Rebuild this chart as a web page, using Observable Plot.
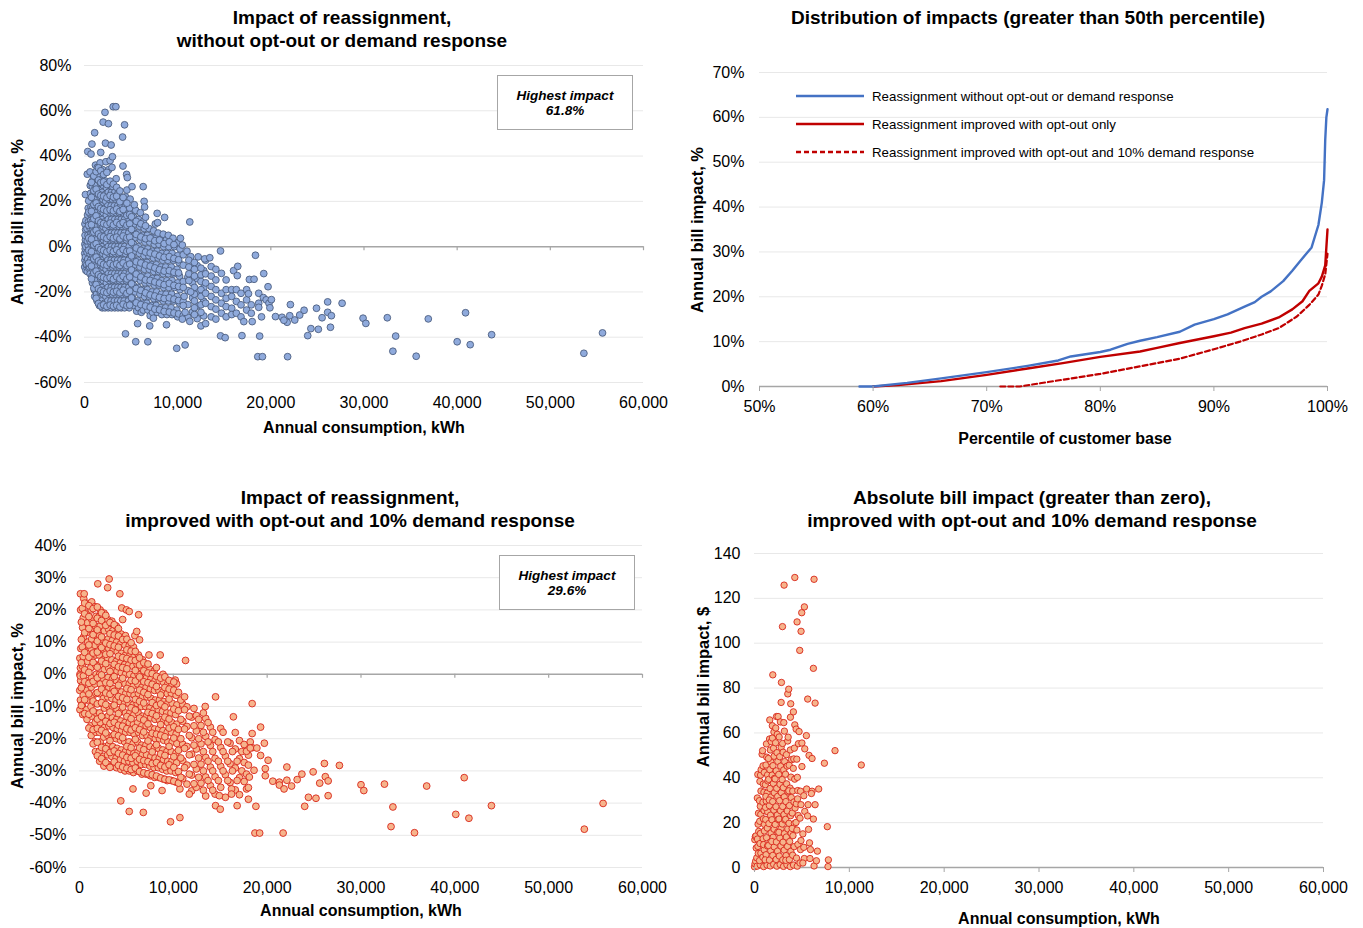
<!DOCTYPE html>
<html>
<head>
<meta charset="utf-8">
<script src="https://cdn.jsdelivr.net/npm/d3@7"></script>
<script src="https://cdn.jsdelivr.net/npm/@observablehq/plot@0.6"></script>
<style>
  body { margin: 0; background: #fff; font-family: "Liberation Sans", Arial, sans-serif; color: #000; }
  #chart { position: relative; width: 1363px; height: 928px; overflow: hidden; }
  #chart svg.plot { position: absolute; }
  .title { position: absolute; width: 640px; font-weight: bold; font-size: 19px; line-height: 23px; text-align: center; white-space: nowrap; }
  .xlabel { position: absolute; width: 400px; font-weight: bold; font-size: 16px; text-align: center; transform: translate(-50%, -50%); white-space: nowrap; }
  .ylabel { position: absolute; font-weight: bold; font-size: 16.5px; white-space: nowrap; transform: translate(-50%, -50%) rotate(-90deg); }
  .note { position: absolute; box-sizing: border-box; width: 136px; height: 55px; border: 1px solid #a6a6a6; background: #fff;
          font-weight: bold; font-style: italic; font-size: 13.5px; line-height: 15px; text-align: center; padding-top: 12px; }
  .legend { position: absolute; font-size: 13.3px; }
  .legend .row { position: absolute; left: 0; height: 20px; display: flex; align-items: center; white-space: nowrap; }
  .legend svg { margin-right: 8px; }
</style>
</head>
<body>
<div id="chart"></div>
<script>
// [annual consumption (thousand kWh), annual bill impact (%)] — reassignment without opt-out or demand response
const baseImpact = [
  [0.02,-9],[0.05,-6],[0.03,-3],[0.08,-1],[0.04,1],[0.1,3],[0.06,5],[0.12,7.5],[0.05,10],[0.15,-10.5],[0.12,-7.5],[0.1,-4.5],[0.14,0],[0.15,11.5],[0.1,23],
  [0.3,-11],[0.25,-8],[0.35,-5.5],[0.28,-2.5],[0.4,0.5],[0.3,2.5],[0.38,5],[0.27,8],[0.42,11],[0.33,14],[0.4,17],[0.3,32],[0.35,42],[0.45,-9.5],
  [0.6,-12],[0.55,-9],[0.65,-6],[0.58,-3],[0.7,-0.5],[0.6,2.5],[0.68,5.5],[0.56,8.5],[0.66,11.5],[0.6,14.5],[0.7,17.5],[0.57,20.5],[0.65,23.5],[0.6,33],[0.7,40.9],[0.62,27],
  [0.85,-16],[0.8,-13],[0.9,-10],[0.82,-7],[0.93,-4],[0.85,-1],[0.95,2],[0.8,5],[0.9,8],[0.83,11],[0.94,14],[0.86,17],[0.8,20],[0.92,23],[0.85,26.5],[0.95,30],[0.8,45.3],
  [1.1,-22],[1.05,-19],[1.15,-16],[1.08,-13],[1.2,-10],[1.1,-7],[1.18,-4],[1.05,-1],[1.15,2],[1.1,5],[1.2,8],[1.06,11],[1.16,14],[1.1,17],[1.2,20],[1.05,23],[1.15,26],[1.1,29],[1.2,32],[1.09,50.3],[1.18,36],
  [1.35,-24],[1.3,-21],[1.42,-18],[1.33,-15],[1.45,-12],[1.3,-9],[1.4,-6],[1.35,-3],[1.45,0],[1.3,3],[1.4,6],[1.35,9],[1.45,12],[1.3,15],[1.4,18],[1.35,21],[1.45,24],[1.3,27],[1.4,30],[1.38,35],
  [1.6,-26],[1.55,-23],[1.68,-20],[1.58,-17],[1.72,-14],[1.6,-11],[1.7,-8],[1.56,-5],[1.66,-2],[1.6,1],[1.74,4],[1.58,7],[1.68,10],[1.6,13],[1.72,16],[1.56,19],[1.66,22],[1.6,25],[1.72,28],[1.62,31],[1.74,41.6],[1.68,37],
  [1.9,-27],[1.85,-24],[1.98,-21],[1.88,-18],[2.02,-15],[1.9,-12],[2.0,-9],[1.86,-6],[1.96,-3],[1.9,0],[2.04,3],[1.88,6],[1.98,9],[1.9,12],[2.02,15],[1.86,18],[1.96,21],[1.9,24],[2.02,27],[1.92,30],[2.0,55],[1.95,34],
  [2.2,-27],[2.15,-25],[2.3,-22],[2.18,-19],[2.35,-16],[2.2,-13],[2.32,-10],[2.16,-7],[2.28,-4],[2.2,-1],[2.36,2],[2.18,5],[2.3,8],[2.2,11],[2.34,14],[2.16,17],[2.28,20],[2.2,23],[2.36,26],[2.22,29],[2.2,59.3],[2.3,37.5],[2.25,45.7],
  [2.55,-27],[2.5,-24],[2.65,-21],[2.52,-18],[2.7,-15],[2.55,-12],[2.68,-9],[2.5,-6],[2.62,-3],[2.55,0],[2.72,3],[2.52,6],[2.65,9],[2.55,12],[2.7,15],[2.5,18],[2.62,21],[2.55,24],[2.7,27],[2.57,54.3],[2.6,34],[2.75,38],
  [2.9,-27],[2.85,-24],[3.0,-21],[2.88,-18],[3.05,-15],[2.9,-12],[3.02,-9],[2.86,-6],[2.98,-3],[2.9,0],[3.06,3],[2.88,6],[3.0,9],[2.9,12],[3.04,15],[2.86,18],[2.98,21],[2.9,24],[3.04,26.5],[2.86,44.9],[3.0,39.7],[3.08,61.8],[2.95,35],
  [3.25,-27],[3.2,-24],[3.35,-21],[3.22,-18],[3.4,-15],[3.25,-12],[3.38,-9],[3.2,-6],[3.32,-3],[3.25,0],[3.42,3],[3.22,6],[3.35,9],[3.25,12],[3.4,15],[3.2,18],[3.32,21],[3.25,24],[3.37,61.8],[3.4,30],
  [3.6,-27],[3.55,-24],[3.7,-21],[3.58,-18],[3.75,-15],[3.6,-12],[3.72,-9],[3.56,-6],[3.68,-3],[3.6,0],[3.76,3],[3.58,6],[3.7,9],[3.6,12],[3.75,15],[3.56,18],[3.68,21],[3.6,23.5],
  [3.95,-27],[3.9,-24],[4.05,-21],[3.92,-18],[4.1,-15],[3.95,-12],[4.08,-9],[3.9,-6],[4.02,-3],[3.95,0],[4.12,3],[3.92,6],[4.05,9],[3.95,12],[4.1,15],[3.9,18],[4.02,20],[4.13,35.6],[4.09,48.4],
  [4.3,-27],[4.25,-24],[4.45,-21],[4.3,-18],[4.5,-15],[4.3,-12],[4.45,-9],[4.25,-6],[4.4,-3],[4.3,0],[4.5,3],[4.28,6],[4.42,9],[4.3,12],[4.48,15],[4.35,17.5],[4.52,31.9],[4.6,30.5],[4.3,53.8],[4.4,-38.5],[4.55,25],[4.4,22],
  [4.8,-27],[4.7,-24],[4.95,-21],[4.75,-18],[5.0,-15],[4.8,-12],[4.95,-9],[4.72,-6],[4.9,-3],[4.8,0],[5.0,3],[4.75,6],[4.92,9],[4.8,12],[5.0,15],[4.85,17],[5.05,-25],[5.1,26.5],[4.9,21],
  [5.3,-26],[5.2,-23],[5.45,-20],[5.25,-17],[5.5,-14],[5.3,-11],[5.45,-8],[5.22,-5],[5.4,-2],[5.3,1],[5.5,4],[5.25,7],[5.42,10],[5.3,13],[5.5,16],[5.6,-28.5],[5.5,-42],[5.7,-34],[5.35,18.5],
  [5.8,-27],[5.72,-24],[5.95,-21],[5.75,-18],[6.0,-15],[5.8,-12],[5.95,-9],[5.72,-6],[5.9,-3],[5.8,0],[6.0,3],[5.75,6],[5.92,9],[5.8,12],[6.0,15],[6.3,26.5],[6.4,20],[6.45,17.5],[6.1,-29],
  [6.3,-28],[6.2,-25],[6.45,-22],[6.25,-19],[6.5,-16],[6.3,-13],[6.45,-10],[6.22,-7],[6.4,-4],[6.3,-1],[6.5,2],[6.25,5],[6.42,8],[6.3,11],[6.55,13],[6.8,-42],
  [6.8,-28],[6.7,-25],[6.95,-22],[6.75,-19],[7.0,-16],[6.8,-13],[6.95,-10],[6.72,-7],[6.9,-4],[6.8,-1],[7.0,2],[6.75,5],[6.92,8],[7.0,-35],[7.05,-30.5],
  [7.3,-29],[7.2,-26],[7.45,-23],[7.25,-20],[7.5,-17],[7.3,-14],[7.45,-11],[7.22,-8],[7.4,-5],[7.3,-2],[7.5,1],[7.25,4],[7.42,7],[7.4,-31.6],[7.6,10],
  [7.8,-29],[7.7,-26],[7.95,-23],[7.75,-20],[8.0,-17],[7.8,-14],[7.95,-11],[7.72,-8],[7.9,-5],[7.8,-2],[8.0,1],[7.75,4],[7.9,6],[7.8,14.7],[7.85,10.6],
  [8.3,-30],[8.2,-27],[8.45,-24],[8.25,-21],[8.5,-18],[8.3,-15],[8.45,-12],[8.22,-9],[8.4,-6],[8.3,-3],[8.5,0],[8.25,3],[8.45,5.5],[8.6,12.9],[8.8,-34.5],
  [8.85,-30],[8.7,-27],[9.0,-24],[8.75,-21],[9.05,-18],[8.85,-15],[9.0,-12],[8.72,-9],[8.95,-6],[8.85,-3],[9.05,0],[8.8,3],[9.0,5],
  [9.4,-30],[9.3,-27],[9.6,-24],[9.35,-21],[9.65,-18],[9.4,-15],[9.6,-12],[9.32,-9],[9.55,-6],[9.4,-3],[9.65,0],[9.5,3.7],[9.9,-44.9],
  [10.0,-31],[9.9,-28],[10.2,-25],[9.95,-22],[10.25,-19],[10.0,-16],[10.2,-13],[9.92,-10],[10.15,-7],[10.0,-4],[10.25,-1],[10.1,2],[10.3,3.7],[10.8,-43.4],
  [0.45,-7.3],[0.45,-1.6],[0.45,3.8],[0.45,9.4],[0.45,15.3],[0.45,20.2],
  [0.75,-14.2],[0.75,-8.6],[0.75,-2.2],[0.75,3.3],[0.75,9.7],[0.75,15.6],[0.75,21.8],[0.75,28.4],
  [1.0,-18.3],[1.0,-11.6],[1.0,-5.4],[1.0,0.7],[1.0,6.4],[1.0,12.3],[1.0,18.6],[1.0,24.7],[1.0,31.2],
  [1.25,-22.8],[1.25,-16.7],[1.25,-10.8],[1.25,-4.6],[1.25,1.3],[1.25,7.2],[1.25,13.6],[1.25,19.3],[1.25,25.4],[1.25,33.1],
  [1.5,-25.1],[1.5,-18.6],[1.5,-12.4],[1.5,-6.3],[1.5,-0.4],[1.5,5.6],[1.5,11.4],[1.5,17.7],[1.5,23.2],[1.5,29.4],[1.5,34.8],
  [1.75,-26.2],[1.75,-19.4],[1.75,-13.2],[1.75,-7.1],[1.75,-1.2],[1.75,4.6],[1.75,10.6],[1.75,16.9],[1.75,22.6],[1.75,28.3],[1.75,33.5],
  [2.05,-25.7],[2.05,-19.9],[2.05,-13.6],[2.05,-7.8],[2.05,-1.7],[2.05,4.3],[2.05,10.2],[2.05,16.4],[2.05,22.3],[2.05,28.6],[2.05,31.9],
  [2.4,-26.4],[2.4,-20.3],[2.4,-14.1],[2.4,-8.2],[2.4,-2.3],[2.4,3.6],[2.4,9.7],[2.4,15.8],[2.4,21.6],[2.4,27.4],[2.4,32.8],
  [2.75,-25.8],[2.75,-19.6],[2.75,-13.7],[2.75,-7.4],[2.75,-1.6],[2.75,4.4],[2.75,10.4],[2.75,16.3],[2.75,22.6],[2.75,28.9],
  [3.1,-26.3],[3.1,-20.1],[3.1,-14.4],[3.1,-8.1],[3.1,-2.2],[3.1,3.7],[3.1,9.6],[3.1,15.8],[3.1,21.9],[3.1,27.6],
  [3.45,-25.9],[3.45,-19.7],[3.45,-13.3],[3.45,-7.6],[3.45,-1.4],[3.45,4.2],[3.45,10.7],[3.45,16.6],[3.45,22.3],[3.45,26.2],
  [3.8,-26.6],[3.8,-20.4],[3.8,-14.2],[3.8,-8.3],[3.8,-2.5],[3.8,3.4],[3.8,9.8],[3.8,15.6],[3.8,19.8],[3.8,24.6],
  [4.15,-25.4],[4.15,-19.2],[4.15,-13.1],[4.15,-7.2],[4.15,-1.3],[4.15,4.7],[4.15,10.6],[4.15,16.4],[4.15,21.7],
  [4.55,-26.1],[4.55,-20.6],[4.55,-14.3],[4.55,-8.4],[4.55,-2.1],[4.55,3.9],[4.55,9.5],[4.55,13.8],[4.55,19.2],
  [4.85,-25.8],[4.85,-19.6],[4.85,-13.4],[4.85,-7.7],[4.85,-1.9],[4.85,4.2],[4.85,10.1],[4.85,14.2],
  [5.05,-22.6],[5.05,-16.4],[5.05,-10.3],[5.05,-4.1],[5.05,1.8],[5.05,7.6],[5.05,13.2],
  [5.55,-24.8],[5.55,-18.5],[5.55,-12.1],[5.55,-6.7],[5.55,-0.6],[5.55,5.4],[5.55,11.2],
  [6.05,-25.6],[6.05,-19.3],[6.05,-13.4],[6.05,-7.2],[6.05,-1.6],[6.05,4.3],[6.05,10.1],
  [6.55,-26.2],[6.55,-20.4],[6.55,-14.7],[6.55,-8.1],[6.55,-2.4],[6.55,3.5],[6.55,9.2],
  [7.05,-26.7],[7.05,-21.3],[7.05,-14.9],[7.05,-8.6],[7.05,-2.8],[7.05,3.8],
  [7.55,-27.6],[7.55,-21.8],[7.55,-15.6],[7.55,-9.4],[7.55,-3.3],[7.55,2.6],
  [8.05,-27.9],[8.05,-22.4],[8.05,-16.1],[8.05,-10.2],[8.05,-4.1],[8.05,2.9],
  [8.55,-28.6],[8.55,-22.9],[8.55,-16.8],[8.55,-10.8],[8.55,-4.7],[8.55,1.3],
  [9.1,-28.9],[9.1,-22.6],[9.1,-16.2],[9.1,-10.6],[9.1,-4.4],[9.1,2.1],
  [9.6,-29.3],[9.6,-23.2],[9.6,-17.1],[9.6,-11.3],[9.6,-5.2],[9.6,0.9],
  [10.1,-29.7],[10.1,-23.8],[10.1,-17.6],[10.1,-11.6],[10.1,-5.8],
  [10.6,-30.4],[10.6,-24.3],[10.6,-15.4],[10.6,-8.2],[10.6,-3.6],
  [11.1,-31.2],[11.1,-25.6],[11.1,-19.4],[11.1,-13.4],
  [11.6,-28.8],[11.6,-22.6],[11.6,-16.1],[11.6,-9.3],
  [12.1,-31.8],[12.1,-26.2],[12.1,-20.3],[12.1,-14.1],[12.1,-8.4],
  [12.8,-30.6],[12.8,-24.1],[12.8,-18.2],[12.8,-10.6],
  [10.5,0.7],[11,-2],[11.4,-4.4],[11.2,-6],[11.2,-9],[11.2,-12],[11.2,-15],[10.6,-18],[10.7,-22],[10.6,-26],[10.8,-29],[10.5,-32],
  [11.8,-7],[11.8,-10],[11.8,-13],[11.8,-18],[11.8,-21],[11.8,-24],[11.8,-27],[11.8,-30],[11.3,10.9],[11.4,-20],[11.3,-33],
  [12.5,-9.5],[12.5,-12.5],[12.5,-15.4],[12.5,-19],[12.5,-22],[12.5,-25.7],[12.5,-29],[12.5,-35],[12.2,-4.5],
  [13,-6],[13,-12],[13,-16],[13,-20.6],[13,-25],[13,-34],[12.9,-5.4],[13.45,-4.9],
  [13.6,-8.8],[13.6,-13],[13.6,-17.6],[13.6,-22],[13.6,-26.5],[13.6,-31],
  [14.1,-10],[14.1,-14.7],[14.1,-19],[14.1,-23.5],[14.1,-27.6],[14.1,-32],
  [14.6,-1.9],[14.7,-11.8],[14.7,-20.6],[14.7,-25],[14.7,-29.4],[14.6,-39.4],
  [15.2,-14.7],[15.2,-19],[15.2,-22.8],[15.2,-26.5],[15.2,-31],[15.1,-40.2],
  [15.8,-19],[15.8,-22],[15.8,-27.2],[15.8,-30],
  [16.0,-10.6],[16.45,-8.7],[16.4,-12.8],[16.3,-19],[16.3,-24.2],[16.3,-29.4],
  [16.8,-20.6],[16.8,-25.7],[16.8,-31],[16.9,-39.3],[17.1,-33.1],
  [17.4,-19],[17.4,-23.5],[17.4,-28],[17.7,-14.5],[17.6,-20.8],
  [17.9,-25.7],[17.9,-29.4],[18.0,-33.1],
  [18.35,-3.8],[18.2,-14.4],[18.7,-20.6],[18.7,-25],[18.7,-26.8],[18.8,-39.5],[18.6,-48.6],[19.1,-48.6],
  [19.24,-11.9],[19.7,-17.7],[19.2,-22.5],[19.5,-23.5],[19.8,-25],[19.9,-27],[19.0,-31],
  [20.06,-23.4],[20.5,-30.9],[21.2,-31.2],[21.75,-33.4],[21.4,-32.5],[22.1,-25.6],[22.03,-30.5],[22.57,-32.4],[23.1,-30.2],[23.57,-28.1],
  [21.8,-48.6],[23.96,-39.3],[24.3,-36.2],[24.9,-27.2],[25.1,-36.5],[25.5,-31.4],[26.1,-24.4],[26.1,-29],[26.5,-30.5],[26.4,-35.6],
  [27.65,-25],[29.9,-31.6],[30.2,-33.9],[32.5,-31.4],[33.4,-39.5],[33.1,-46.2],[35.6,-48.4],[36.9,-31.9],[40,-42],[40.9,-29.2],
  [41.4,-43.3],[43.7,-38.9],[53.6,-47.1],[55.6,-38.1]
];

// [annual consumption (thousand kWh), annual bill impact (%)] — improved with opt-out and 10% demand response
const improvedImpact = [
  [0.05,-11],[0.1,-8],[0.03,-5],[0.12,-2],[0.05,0],[0.1,2],[0.04,5],[0.14,8],[0.08,-0.5],[0.12,20],[0.1,25],
  [0.35,-12.5],[0.3,-9.5],[0.4,-6.5],[0.3,-3.5],[0.42,-0.5],[0.32,2.5],[0.4,5.5],[0.3,8.5],[0.42,11.5],[0.33,14.5],[0.4,17.5],[0.3,20.5],[0.45,23.5],[0.5,25],
  [0.8,-14],[0.75,-11],[0.85,-8],[0.78,-5],[0.88,-2],[0.8,1],[0.85,4],[0.75,7],[0.88,10],[0.8,13],[0.86,16],[0.76,19],[0.84,22],
  [1.25,-19],[1.2,-16],[1.3,-13],[1.22,-10],[1.32,-7],[1.25,-4],[1.3,-1],[1.2,2],[1.32,5],[1.25,8],[1.3,11],[1.2,14],[1.32,17],[1.25,20],[1.3,22.5],
  [1.7,-24],[1.65,-21],[1.75,-18],[1.68,-15],[1.78,-12],[1.7,-9],[1.75,-6],[1.65,-3],[1.78,0],[1.7,3],[1.75,6],[1.65,9],[1.78,12],[1.7,15],[1.75,18],[1.65,21],[1.95,28.1],
  [2.15,-27],[2.1,-24],[2.2,-21],[2.12,-18],[2.22,-15],[2.15,-12],[2.2,-9],[2.1,-6],[2.22,-3],[2.15,0],[2.2,3],[2.1,6],[2.22,9],[2.15,12],[2.2,15],[2.1,18],[2.2,20],
  [2.6,-28.5],[2.55,-25.5],[2.65,-22.5],[2.58,-19.5],[2.68,-16.5],[2.6,-13.5],[2.65,-10.5],[2.55,-7.5],[2.68,-4.5],[2.6,-1.5],[2.65,1.5],[2.55,4.5],[2.68,7.5],[2.6,10.5],[2.65,13.5],[2.55,16.5],[2.62,19],
  [3.05,-28],[3.0,-25],[3.1,-22],[3.02,-19],[3.12,-16],[3.05,-13],[3.1,-10],[3.0,-7],[3.12,-4],[3.05,-1],[3.1,2],[3.0,5],[3.12,8],[3.05,11],[3.1,14],[3.0,17],[3.0,26.9],[3.16,29.6],
  [3.5,-28.5],[3.45,-25.5],[3.55,-22.5],[3.48,-19.5],[3.58,-16.5],[3.5,-13.5],[3.55,-10.5],[3.45,-7.5],[3.58,-4.5],[3.5,-1.5],[3.55,1.5],[3.45,4.5],[3.58,7.5],[3.5,10.5],[3.55,13.5],[3.45,16.5],
  [3.95,-29],[3.9,-26],[4.0,-23],[3.92,-20],[4.02,-17],[3.95,-14],[4.0,-11],[3.9,-8],[4.02,-5],[3.95,-2],[4.0,1],[3.9,4],[4.02,7],[3.95,10],[4.0,13],[3.92,15],[4.3,25],
  [4.4,-29.5],[4.35,-26.5],[4.45,-23.5],[4.38,-20.5],[4.48,-17.5],[4.4,-14.5],[4.45,-11.5],[4.35,-8.5],[4.48,-5.5],[4.4,-2.5],[4.45,0.5],[4.35,3.5],[4.48,6.5],[4.4,9.5],[4.45,12.5],[4.5,20.6],[4.4,-39.3],[4.6,17],
  [4.85,-30],[4.8,-27],[4.9,-24],[4.82,-21],[4.92,-18],[4.85,-15],[4.9,-12],[4.8,-9],[4.92,-6],[4.85,-3],[4.9,0],[4.8,3],[4.92,6],[4.85,9],[4.9,12],[5.0,20],[5.3,19.5],
  [5.3,-30],[5.25,-27],[5.35,-24],[5.28,-21],[5.38,-18],[5.3,-15],[5.35,-12],[5.25,-9],[5.38,-6],[5.3,-3],[5.35,0],[5.25,3],[5.38,6],[5.3,9],[5.3,-42.6],[5.7,-35.6],
  [5.75,-30.5],[5.7,-27.5],[5.8,-24.5],[5.72,-21.5],[5.82,-18.5],[5.75,-15.5],[5.8,-12.5],[5.7,-9.5],[5.82,-6.5],[5.75,-3.5],[5.8,-0.5],[5.7,2.5],[5.82,5.5],[5.75,8.5],[5.9,12],
  [6.2,-30],[6.15,-27],[6.25,-24],[6.18,-21],[6.28,-18],[6.2,-15],[6.25,-12],[6.15,-9],[6.28,-6],[6.2,-3],[6.25,0],[6.15,3],[6.28,6],[6.1,13.3],[6.3,18.5],[6.4,10.7],
  [6.65,-31],[6.6,-28],[6.7,-25],[6.62,-22],[6.72,-19],[6.65,-16],[6.7,-13],[6.6,-10],[6.72,-7],[6.65,-4],[6.7,-1],[6.6,2],[6.72,4.5],[6.8,-42.9],
  [7.1,-31],[7.05,-28],[7.15,-25],[7.08,-22],[7.18,-19],[7.1,-16],[7.15,-13],[7.05,-10],[7.18,-7],[7.1,-4],[7.15,-1],[7.05,2],[7.4,6],[7.1,-36.9],[7.6,-34.6],
  [7.55,-31.5],[7.5,-28.5],[7.6,-25.5],[7.52,-22.5],[7.62,-19.5],[7.55,-16.5],[7.6,-13.5],[7.5,-10.5],[7.62,-7.5],[7.55,-4.5],[7.6,-1.5],[7.5,1.5],
  [8.0,-32],[7.95,-29],[8.05,-26],[7.98,-23],[8.08,-20],[8.0,-17],[8.05,-14],[7.95,-11],[8.08,-8],[8.0,-5],[8.05,-2],[7.95,1],[8.6,6],
  [8.45,-32],[8.4,-29],[8.5,-26],[8.42,-23],[8.52,-20],[8.45,-17],[8.5,-14],[8.4,-11],[8.52,-8],[8.45,-5],[8.5,-2],[8.8,-36.1],
  [8.9,-32.5],[8.85,-29.5],[8.95,-26.5],[8.88,-23.5],[8.98,-20.5],[8.9,-17.5],[8.95,-14.5],[8.85,-11.5],[8.98,-8.5],[8.9,-5.5],[8.95,-2.5],[8.9,0],
  [9.35,-33],[9.3,-30],[9.4,-27],[9.32,-24],[9.42,-21],[9.35,-18],[9.4,-15],[9.3,-12],[9.42,-9],[9.35,-6],[9.4,-3],[9.7,-45.8],
  [9.8,-33],[9.75,-30],[9.85,-27],[9.78,-24],[9.88,-21],[9.8,-18],[9.85,-15],[9.75,-12],[9.88,-9],[9.8,-6],[9.85,-3],[10.2,-1.8],
  [10.3,-33.5],[10.25,-30.5],[10.35,-27.5],[10.28,-24.5],[10.38,-21.5],[10.3,-18.5],[10.35,-15.5],[10.25,-12.5],[10.38,-9.5],[10.3,-6.5],[10.35,-3],[10.7,-44.5],[10.7,-35.6],[11.3,4.3],
  [0.2,-9.7],[0.2,-4.2],[0.2,3.6],[0.2,10.8],[0.2,16.2],
  [0.55,-12.2],[0.55,-7.9],[0.55,-2.3],[0.55,1.4],[0.55,6.8],[0.55,12.9],[0.55,18.8],[0.55,22.1],
  [1.0,-16.7],[1.0,-12.4],[1.0,-6.1],[1.0,-2.8],[1.0,0.6],[1.0,5.3],[1.0,9.1],[1.0,14.2],[1.0,17.9],[1.0,21.3],
  [1.45,-21.6],[1.45,-17.2],[1.45,-11.4],[1.45,-8.3],[1.45,-2.2],[1.45,3.7],[1.45,6.6],[1.45,12.3],[1.45,15.8],[1.45,20.4],
  [1.9,-25.3],[1.9,-21.1],[1.9,-16.8],[1.9,-13.9],[1.9,-9.2],[1.9,-5.7],[1.9,-1.1],[1.9,2.2],[1.9,6.9],[1.9,10.3],[1.9,13.8],[1.9,17.4],[1.9,20.9],
  [2.35,-26.2],[2.35,-22.7],[2.35,-17.4],[2.35,-13.1],[2.35,-8.8],[2.35,-4.6],[2.35,-0.2],[2.35,4.1],[2.35,8.3],[2.35,11.6],[2.35,16.7],[2.35,19.1],
  [2.8,-27.4],[2.8,-23.1],[2.8,-18.2],[2.8,-14.6],[2.8,-9.4],[2.8,-5.8],[2.8,-2.6],[2.8,3.3],[2.8,6.2],[2.8,9.7],[2.8,15.2],[2.8,18.3],
  [3.25,-28.9],[3.25,-24.3],[3.25,-20.6],[3.25,-15.3],[3.25,-11.7],[3.25,-6.2],[3.25,-2.8],[3.25,0.9],[3.25,6.4],[3.25,9.2],[3.25,12.6],[3.25,16.1],
  [3.7,-27.2],[3.7,-23.8],[3.7,-18.7],[3.7,-14.9],[3.7,-9.6],[3.7,-5.3],[3.7,-0.7],[3.7,3.1],[3.7,8.8],[3.7,12.2],[3.7,15.4],
  [4.15,-28.3],[4.15,-24.6],[4.15,-19.1],[4.15,-15.8],[4.15,-12.2],[4.15,-6.9],[4.15,-3.4],[4.15,2.3],[4.15,5.6],[4.15,8.4],[4.15,11.9],[4.15,14.2],
  [4.6,-28.8],[4.6,-25.1],[4.6,-19.7],[4.6,-16.1],[4.6,-10.2],[4.6,-7.3],[4.6,-1.2],[4.6,2.1],[4.6,5.2],[4.6,10.8],
  [5.05,-29.2],[5.05,-25.8],[5.05,-22.4],[5.05,-16.9],[5.05,-13.1],[5.05,-7.8],[5.05,-4.4],[5.05,1.7],[5.05,4.9],[5.05,7.6],[5.05,10.9],
  [5.5,-29.6],[5.5,-26.1],[5.5,-22.8],[5.5,-17.3],[5.5,-13.8],[5.5,-10.4],[5.5,-4.8],[5.5,-1.9],[5.5,4.4],[5.5,7.2],[5.5,9.8],
  [5.95,-29.1],[5.95,-25.3],[5.95,-20.2],[5.95,-16.6],[5.95,-11.1],[5.95,-7.8],[5.95,-2.1],[5.95,1.2],[5.95,4.3],[5.95,7.1],
  [6.4,-30.2],[6.4,-26.4],[6.4,-22.9],[6.4,-17.2],[6.4,-13.6],[6.4,-8.4],[6.4,-4.9],[6.4,-0.8],[6.4,2.9],[6.4,5.1],
  [6.85,-30.6],[6.85,-26.8],[6.85,-23.4],[6.85,-17.9],[6.85,-14.2],[6.85,-8.9],[6.85,-5.6],[6.85,-2.3],[6.85,1.1],[6.85,3.6],
  [7.3,-30.9],[7.3,-27.1],[7.3,-20.7],[7.3,-15.4],[7.3,-11.8],[7.3,-6.3],[7.3,-2.6],[7.3,0.4],[7.3,3.2],
  [7.75,-31.2],[7.75,-27.7],[7.75,-24.1],[7.75,-18.3],[7.75,-12.2],[7.75,-8.8],[7.75,-3.1],[7.75,0.2],
  [8.2,-31.6],[8.2,-27.4],[8.2,-21.9],[8.2,-18.6],[8.2,-12.9],[8.2,-9.7],[8.2,-3.8],[8.2,-0.6],[8.2,2.1],
  [8.65,-32.2],[8.65,-28.3],[8.65,-24.7],[8.65,-18.9],[8.65,-15.6],[8.65,-9.2],[8.65,-6.4],[8.65,-1.2],
  [9.1,-32.6],[9.1,-28.8],[9.1,-25.2],[9.1,-19.4],[9.1,-13.3],[9.1,-10.1],[9.1,-4.1],[9.1,-0.8],
  [9.55,-32.8],[9.55,-28.1],[9.55,-22.4],[9.55,-16.7],[9.55,-13.9],[9.55,-7.7],[9.55,-4.6],[9.55,-1.9],
  [10.05,-33.2],[10.05,-28.9],[10.05,-25.6],[10.05,-19.8],[10.05,-16.3],[10.05,-10.8],[10.05,-4.9],[10.05,-2.4],
  [10.55,-33.8],[10.55,-30.2],[10.55,-23.6],[10.55,-17.1],[10.55,-11.3],[10.55,-5.6],
  [11.0,-32.4],[11.0,-26.8],[11.0,-21.7],[11.0,-14.6],[11.0,-9.3],
  [11.45,-34.1],[11.45,-28.2],[11.45,-22.4],[11.45,-16.2],[11.45,-10.1],
  [11.95,-36.2],[11.95,-31.3],[11.95,-24.8],[11.95,-19.7],[11.95,-13.3],
  [12.45,-35.1],[12.45,-29.4],[12.45,-23.2],[12.45,-17.6],[12.45,-12.8],
  [12.95,-33.8],[12.95,-27.9],[12.95,-21.6],[12.95,-15.9],
  [13.45,-37.8],[13.45,-31.9],[13.45,-25.8],[13.45,-19.3],[13.45,-13.7],
  [13.95,-34.6],[13.95,-28.8],[13.95,-22.1],[13.95,-16.4],
  [14.45,-37.2],[14.45,-31.8],[14.45,-26.1],[14.45,-20.3],
  [15.05,-35.1],[15.05,-28.6],[15.05,-22.7],[15.05,-16.8],
  [15.55,-38.2],[15.55,-31.2],[15.55,-25.4],
  [16.05,-33.6],[16.05,-27.8],[16.05,-21.4],
  [16.6,-35.9],[16.6,-29.1],[16.6,-23.2],[16.6,-18.1],
  [17.05,-37.4],[17.05,-32.1],[17.05,-26.2],[17.05,-20.6],
  [17.55,-33.3],[17.55,-27.4],[17.55,-21.8],
  [18.0,-38.8],[18.0,-28.2],[18.0,-25.1],
  [10.8,-32],[10.8,-26],[10.8,-20],[10.8,-14],[10.8,-8],[11.2,-29],[11.2,-23],[11.2,-17],[11.2,-11],[11.2,-7],
  [11.7,-37.2],[11.7,-31],[11.7,-25],[11.7,-19],[11.7,-13],[12.2,-34],[12.2,-28],[12.2,-22],[12.2,-16],[12.2,-10.6],
  [12.7,-32],[12.7,-26],[12.7,-20],[12.7,-14],[13.2,-36],[13.2,-30],[13.2,-24],[13.2,-18],[13.2,-12],[13.4,-10],
  [13.7,-33],[13.7,-27],[13.7,-21],[13.7,-15],[14.2,-36],[14.2,-30],[14.2,-24],[14.2,-18],[14.5,-7],[14.5,-40.8],
  [14.8,-33],[14.8,-27],[14.8,-21],[14.9,-37.7],[15.0,-41.9],[15.3,-30],[15.3,-24],[15.3,-18],[15.8,-33],[15.8,-27],[15.8,-21],
  [16.2,-35.6],[16.2,-37.2],[16.4,-13.2],[16.3,-24],[16.3,-30],[16.8,-40.8],[16.8,-27],[16.8,-33],[17.3,-24],[17.3,-30],
  [17.8,-35.6],[17.8,-23.9],[17.8,-31],[18.1,-31.9],[18.0,-35.2],[18.4,-9.1],[18.4,-18.4],[18.2,-21],[18.4,-22.8],[18.2,-22.9],[18.9,-22.9],[18.6,-29.8],[18.8,-41],[18.7,-49.3],[19.2,-49.3],
  [19.3,-16.4],[19.7,-21.4],[19.3,-25.2],[19.8,-29.3],[19.8,-31.5],[20.1,-26.7],
  [20.6,-33.2],[21.3,-33.5],[21.3,-34.4],[21.8,-35.6],[22.1,-28.8],[22.1,-32.9],[22.6,-34.7],[23.2,-32.7],[23.7,-31],[24.0,-41],
  [24.4,-38.2],[24.9,-30.3],[25.2,-38.5],[25.6,-33.8],[26.1,-27.7],[26.2,-31.8],[26.5,-33.1],[26.5,-37.7],[27.7,-28.3],[21.7,-49.3],
  [30.0,-34.3],[30.3,-36.1],[32.5,-34.1],[33.2,-47.3],[33.4,-41.2],[35.7,-49.2],[37.0,-34.7],[40.1,-43.5],[41.0,-32.1],[41.5,-44.7],
  [43.9,-40.8],[53.8,-48.1],[55.8,-40.1]
];

// [annual consumption (thousand kWh), annual bill impact ($)] — customers whose bill rises
const absoluteImpact = [
  [0.0,0.3],[0.05,1.6],[0.12,2.8],[0.03,12.4],[0.09,13.8],[0.15,14.1],[0.18,8.7],
  [0.28,0.6],[0.24,4.3],[0.36,9.4],[0.31,12.7],[0.3,31],[0.35,41.5],[0.42,24.2],[0.38,19.3],[0.44,16.1],[0.4,6.3],
  [0.6,1.2],[0.53,3.1],[0.67,6.4],[0.58,10.7],[0.63,15.2],[0.55,20.6],[0.61,27.3],[0.68,34.1],[0.57,38.4],[0.64,41.2],[0.7,43.6],[0.8,50.5],[0.85,52.1],[0.66,23.7],[0.52,29.8],
  [0.97,0.4],[0.88,4.6],[1.02,7.9],[0.91,12.8],[1.04,16.3],[0.94,21.7],[1.01,25.4],[0.89,29.1],[0.99,33.6],[0.93,37.2],[1.03,42.4],[0.9,45.3],[1.05,19.2],[0.96,10.2],
  [1.32,1.1],[1.22,5.7],[1.37,9.6],[1.27,13.3],[1.35,17.6],[1.18,21.4],[1.39,24.8],[1.24,29.6],[1.33,33.2],[1.15,36.9],[1.38,41.3],[1.21,45.7],[1.29,49.2],[1.26,55.1],[1.12,3.4],[1.16,26.8],[1.41,38.6],[1.2,31.7],
  [1.66,0.7],[1.58,3.3],[1.71,7.5],[1.63,11.2],[1.74,15.4],[1.52,19.6],[1.69,23.3],[1.57,27.6],[1.73,31.4],[1.64,35.2],[1.5,39.3],[1.62,43.6],[1.72,47.1],[1.67,52.4],[1.59,57.3],[1.61,65.8],[1.48,9.8],[1.55,30.1],[1.47,48.6],[1.76,56.1],
  [2.02,1.4],[1.93,5.4],[2.08,9.2],[1.97,13.5],[2.06,17.1],[1.84,21.3],[2.04,25.6],[1.92,29.4],[2.09,33.3],[1.99,37.5],[1.86,41.2],[1.95,45.4],[2.07,49.6],[2.01,53.2],[1.89,57.7],[2.05,60.4],[1.93,85.9],[1.82,11.6],[2.1,39.7],[1.88,63.2],
  [2.36,0.6],[2.28,3.6],[2.43,7.3],[2.31,11.4],[2.45,15.8],[2.19,19.2],[2.41,23.4],[2.26,27.1],[2.44,31.7],[2.34,35.3],[2.17,39.5],[2.29,43.1],[2.46,47.3],[2.37,51.2],[2.22,55.6],[2.32,67.3],[2.49,67.3],[2.4,59.4],[2.24,62.2],[2.5,21.4],
  [2.71,1.3],[2.62,5.1],[2.78,9.6],[2.67,13.2],[2.8,17.4],[2.58,21.6],[2.74,25.3],[2.64,29.8],[2.83,33.4],[2.69,37.1],[2.56,41.5],[2.76,45.2],[2.66,49.4],[2.81,53.6],[2.6,58.2],[2.81,73.6],[2.84,82.5],[2.95,107.4],[2.73,64.9],[2.57,15.7],
  [3.06,0.5],[2.98,3.4],[3.13,7.7],[3.01,11.3],[3.16,15.1],[2.93,19.4],[3.11,23.6],[2.97,27.2],[3.14,31.5],[3.04,35.6],[2.92,39.2],[3.08,43.5],[3.18,47.2],[3.02,51.4],[2.96,55.3],[3.09,64.6],[3.12,125.9],[3.15,60.8],[3.19,21.2],
  [3.42,1.2],[3.33,5.3],[3.48,9.4],[3.36,13.6],[3.51,17.2],[3.28,21.5],[3.46,25.2],[3.31,29.4],[3.53,33.7],[3.39,37.3],[3.27,41.6],[3.44,45.2],[3.37,50.3],[3.5,56.4],[3.51,77.4],[3.61,79.5],[3.55,58.1],[3.3,3.2],
  [3.77,0.4],[3.68,3.5],[3.83,7.2],[3.71,11.6],[3.86,15.3],[3.64,19.7],[3.81,23.1],[3.69,27.6],[3.88,31.2],[3.75,35.4],[3.84,40.3],[3.66,45.6],[3.79,67],[3.82,73],[3.78,52.4],[3.9,48.1],[3.62,34.2],
  [4.12,1.1],[4.02,5.5],[4.18,9.3],[4.06,14.2],[4.21,19.6],[3.98,24.3],[4.16,29.2],[4.03,34.1],[4.24,39.4],[4.09,44.2],[4.1,69.4],[4.25,63.6],[4.25,129.3],[4.2,53.2],[4.14,48.4],[3.97,17.4],[4.28,26.5],
  [4.51,0.6],[4.43,4.2],[4.58,10.3],[4.47,16.7],[4.61,23.2],[4.41,28.4],[4.56,34.3],[4.52,40.2],[4.39,61.7],[4.49,109.5],[4.46,48.3],[4.63,55.2],[4.38,20.1],[4.54,30.6],
  [4.8,2],[4.85,8],[4.9,12],[4.8,22],[4.9,28],[4.85,34],[4.7,60.6],[4.77,96.8],[4.91,105.3],[4.98,113.6],[5.0,55.5],[5.3,52.9],[5.26,116.2],[5.1,15],[5.2,9],[5.25,4],[5.3,25],[5.2,32],[5.1,2],[5.0,45],
  [5.47,58.8],[5.61,75.1],[5.75,50],[5.6,23],[5.7,17],[5.5,35],[5.8,11],[5.9,8],[5.65,28],[6.07,48.6],[6.07,34],[6.21,21.6],[6.21,88.8],[6.0,33],[5.85,4],
  [6.28,0.7],[6.28,128.5],[6.39,28],[6.39,73.3],[6.53,3],[6.63,7.3],[6.77,35],[7.37,46.5],[7.68,18.2],[7.79,3.4],[7.75,0.4],[8.49,52.1],[11.26,45.7]
];

// [percentile of customer base (%), annual bill impact (%)] for the upper half of customers
const curveBase = [
  [58.8,0],[60,0],[63,0.8],[66,1.8],[70,3.2],[73.6,4.6],[76.3,5.8],[77.4,6.7],[80,7.7],[80.9,8.2],[82.4,9.5],[83.5,10.2],
  [85,11],[87,12.2],[88.3,13.8],[90,15],[91.2,16.1],[92.7,17.8],[93.6,18.8],[94.2,20],[95,21.2],[96.1,23.5],[96.9,25.8],
  [97.6,28],[98.6,31],[99.2,36],[99.5,41],[99.7,46],[99.8,55],[99.9,60],[100,61.8]
];
const curveOptOut = [
  [60,0],[62.2,0.3],[66,1.2],[70,2.6],[73.6,4],[76.7,5.2],[80,6.6],[83.5,7.8],[85,8.6],[87,9.7],[90,11.2],[91.5,12],
  [92.7,13],[94.2,14],[95.7,15.4],[96.9,17.2],[97.8,19],[98.4,21.3],[99.2,23],[99.5,24.5],[99.8,27],[99.9,31],[100,35]
];
const curveOptOutDR = [
  [71.2,0],[72.9,0],[75.9,1.2],[80,2.8],[83.5,4.5],[87,6.2],[90,8.3],[92.3,10],[94.2,11.6],[95.7,13],[97.3,15.6],
  [98.4,18.2],[99.2,20.5],[99.5,22.5],[99.8,25],[100,29.6]
];

const kwhTicks = [0, 10000, 20000, 30000, 40000, 50000, 60000];
const pctTicksTop = [-60, -40, -20, 0, 20, 40, 60, 80];
const pctTicksBottom = [-60, -50, -40, -30, -20, -10, 0, 10, 20, 30, 40];
const percentileTicks = [50, 60, 70, 80, 90, 100];
const curveTicks = [0, 10, 20, 30, 40, 50, 60, 70];
const dollarTicks = [0, 20, 40, 60, 80, 100, 120, 140];

const legendItems = [
  {label: "Reassignment without opt-out or demand response", color: "#4472c4", dash: null},
  {label: "Reassignment improved with opt-out only", color: "#c00000", dash: null},
  {label: "Reassignment improved with opt-out and 10% demand response", color: "#c00000", dash: "5,3"}
];

const FONT = "'Liberation Sans', Arial, sans-serif";
const GRID = "#e8e8e8";
const AXIS = "#a6a6a6";
const BLUE_FILL = "#8faadc", BLUE_STROKE = "#4d5f80";
const RED_FILL = "#f6b48c", RED_STROKE = "#d8261b";
const fmtKwh = d3.format(",");
const fmtPct = d => `${d}%`;

const chart = document.getElementById("chart");

function place(svg, left, top) {
  svg.classList.add("plot");
  svg.style.left = left + "px";
  svg.style.top = top + "px";
  chart.appendChild(svg);
}
function addDiv(cls, html, css) {
  const el = document.createElement("div");
  el.className = cls;
  el.innerHTML = html;
  Object.assign(el.style, css);
  chart.appendChild(el);
  return el;
}
const baseStyle = {fontFamily: FONT, fontSize: "16px", color: "#000", background: "transparent", overflow: "visible"};

// Scatter of bill impact (%) against consumption, with the zero line carrying the x ticks
function scatterPct({data, width, height, margins, yDomain, yTicks, tickLen, fill, stroke}) {
  return Plot.plot({
    width, height, ...margins,
    style: baseStyle,
    x: {domain: [0, 60000]},
    y: {domain: yDomain},
    marks: [
      Plot.gridY(yTicks.filter(d => d !== 0), {stroke: GRID, strokeOpacity: 1}),
      Plot.ruleY([0], {stroke: AXIS, strokeWidth: 1.5}),
      Plot.ruleX(kwhTicks, {x: d => d, y1: 0, y2: -tickLen, stroke: AXIS, strokeWidth: 1.2}),
      Plot.dot(data, {x: d => d[0] * 1000, y: d => d[1], r: 3.4, fill, stroke, strokeWidth: 0.9}),
      Plot.axisX(kwhTicks, {tickSize: 0, tickPadding: 14, tickFormat: fmtKwh, label: null}),
      Plot.axisY(yTicks, {tickSize: 0, tickPadding: 13, tickFormat: fmtPct, label: null})
    ]
  });
}

// Top left: impact without opt-out or demand response
place(scatterPct({
  data: baseImpact, width: 680, height: 460,
  margins: {marginLeft: 84, marginRight: 37, marginTop: 65, marginBottom: 78},
  yDomain: [-60, 80], yTicks: pctTicksTop, tickLen: 1.8,
  fill: BLUE_FILL, stroke: BLUE_STROKE
}), 0, 0);

// Bottom left: impact with opt-out and 10% demand response
place(scatterPct({
  data: improvedImpact, width: 680, height: 458,
  margins: {marginLeft: 79, marginRight: 38, marginTop: 75, marginBottom: 61},
  yDomain: [-60, 40], yTicks: pctTicksBottom, tickLen: 1.25,
  fill: RED_FILL, stroke: RED_STROKE
}), 0, 470);

// Top right: distribution curves above the 50th percentile
place(Plot.plot({
  width: 683, height: 460,
  marginLeft: 79, marginRight: 36, marginTop: 72, marginBottom: 74,
  style: baseStyle,
  x: {domain: [50, 100]},
  y: {domain: [0, 70]},
  marks: [
    Plot.gridY(curveTicks.filter(d => d !== 0), {stroke: GRID, strokeOpacity: 1}),
    Plot.ruleY([0], {stroke: AXIS, strokeWidth: 1.5}),
    Plot.line(curveOptOutDR, {x: d => d[0], y: d => d[1], stroke: "#c00000", strokeWidth: 2.2, strokeDasharray: "5,3"}),
    Plot.line(curveOptOut, {x: d => d[0], y: d => d[1], stroke: "#c00000", strokeWidth: 2.4}),
    Plot.line(curveBase, {x: d => d[0], y: d => d[1], stroke: "#4472c4", strokeWidth: 2.4}),
    Plot.axisX(percentileTicks, {tickSize: 5, tickPadding: 9, stroke: AXIS, fill: "#000", tickFormat: fmtPct, label: null}),
    Plot.axisY(curveTicks, {tickSize: 0, tickPadding: 15, tickFormat: fmtPct, label: null})
  ]
}), 680, 0);

// Bottom right: absolute bill impact for customers who pay more
place(Plot.plot({
  width: 683, height: 458,
  marginLeft: 74, marginRight: 40, marginTop: 83, marginBottom: 61,
  style: baseStyle,
  x: {domain: [0, 60000]},
  y: {domain: [0, 140]},
  marks: [
    Plot.gridY(dollarTicks.filter(d => d !== 0), {stroke: GRID, strokeOpacity: 1}),
    Plot.ruleY([0], {stroke: AXIS, strokeWidth: 1.5}),
    Plot.dot(absoluteImpact, {x: d => d[0] * 1000, y: d => d[1], r: 3.2, fill: RED_FILL, stroke: RED_STROKE, strokeWidth: 0.9}),
    Plot.axisX(kwhTicks, {tickSize: 5, tickPadding: 9, stroke: AXIS, fill: "#000", tickFormat: fmtKwh, label: null}),
    Plot.axisY(dollarTicks, {tickSize: 0, tickPadding: 14, label: null})
  ]
}), 680, 470);

// Titles
addDiv("title", "Impact of reassignment,<br>without opt-out or demand response", {left: "22px", top: "6px"});
addDiv("title", "Distribution of impacts (greater than 50th percentile)", {left: "708px", top: "6px"});
addDiv("title", "Impact of reassignment,<br>improved with opt-out and 10% demand response", {left: "30px", top: "486px"});
addDiv("title", "Absolute bill impact (greater than zero),<br>improved with opt-out and 10% demand response", {left: "712px", top: "486px"});

// Axis titles
addDiv("xlabel", "Annual consumption, kWh", {left: "364px", top: "428px"});
addDiv("xlabel", "Percentile of customer base", {left: "1065px", top: "439px"});
addDiv("xlabel", "Annual consumption, kWh", {left: "361px", top: "911px"});
addDiv("xlabel", "Annual consumption, kWh", {left: "1059px", top: "919px"});
addDiv("ylabel", "Annual bill impact, %", {left: "17px", top: "222px"});
addDiv("ylabel", "Annual bill impact, %", {left: "697px", top: "230px"});
addDiv("ylabel", "Annual bill impact, %", {left: "17px", top: "706px"});
addDiv("ylabel", "Annual bill impact, $", {left: "703px", top: "687px"});

// Highest-impact call-outs, read from the plotted data
const maxBase = d3.max(baseImpact, d => d[1]);
const maxImproved = d3.max(improvedImpact, d => d[1]);
addDiv("note", `Highest impact<br>${maxBase.toFixed(1)}%`, {left: "497px", top: "75px"});
addDiv("note", `Highest impact<br>${maxImproved.toFixed(1)}%`, {left: "499px", top: "555px"});

// Legend for the distribution curves
const legend = addDiv("legend", "", {left: "796px", top: "86px"});
legendItems.forEach((item, i) => {
  const row = document.createElement("div");
  row.className = "row";
  row.style.top = (i * 28) + "px";
  row.innerHTML = `<svg width="68" height="6"><line x1="0" y1="3" x2="68" y2="3" stroke="${item.color}" stroke-width="2.4"${item.dash ? ` stroke-dasharray="${item.dash}"` : ""}/></svg><span>${item.label}</span>`;
  legend.appendChild(row);
});
</script>
</body>
</html>
